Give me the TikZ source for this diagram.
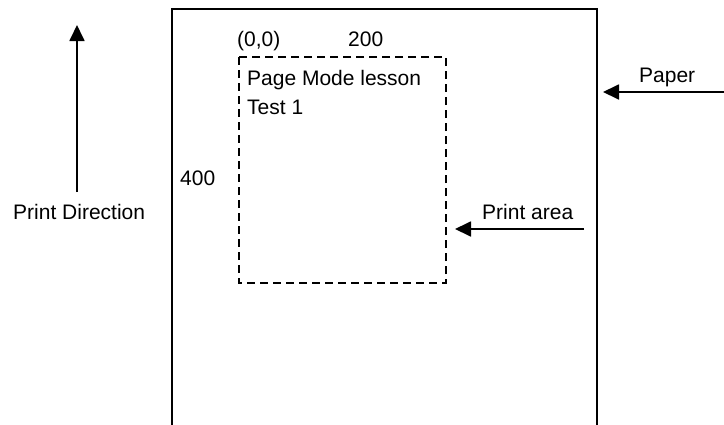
\documentclass[tikz,border=0pt]{standalone}
\usepackage{fontspec}
\setmainfont{Liberation Sans}
\usetikzlibrary{arrows.meta}
\begin{document}
\begin{tikzpicture}[x=1pt,y=-1pt,
  lbl/.style={anchor=base west,inner sep=0pt,font=\fontsize{21}{24}\selectfont},
  paperline/.style={line width=2pt},
  areabox/.style={line width=1.6pt,dash pattern=on 8pt off 5pt},
  pointer/.style={line width=1.8pt,-{Triangle[length=16pt,width=15pt]}}]
\useasboundingbox (0,0) rectangle (724,424);
% paper (open at the bottom)
\coordinate (pbl) at (172,426);
\coordinate (ptl) at (172,9);
\coordinate (ptr) at (597,9);
\coordinate (pbr) at (597,426);
\draw[paperline] (pbl) -- (ptl) -- (ptr) -- (pbr);
% print area
\coordinate (atl) at (239,57);
\coordinate (abr) at (446,283);
\draw[areabox] (atl) rectangle (abr);
% texts
\node[lbl] (origin) at (237,46.5) {(0,0)};
\node[lbl] (w200) at (348,46.5) {200};
\node[lbl] (l1) at (247,85.5) {Page Mode lesson};
\node[lbl] (l2) at (247,114) {Test 1};
\node[lbl] (h400) at (180,185.5) {400};
\node[lbl] (paper) at (639,82) {Paper};
\node[lbl] (parea) at (482,219) {Print area};
\node[lbl] (pdir) at (13,219) {Print Direction};
% arrows
\coordinate (pdfrom) at (77,192);
\coordinate (pdto) at (77,25);
\draw[pointer] (pdfrom) -- (pdto);
\coordinate (papfrom) at (724,92);
\coordinate (papto) at (603,92);
\draw[pointer] (papfrom) -- (papto);
\coordinate (pafrom) at (584,229);
\coordinate (pato) at (455,229);
\draw[pointer] (pafrom) -- (pato);
\end{tikzpicture}
\end{document}
